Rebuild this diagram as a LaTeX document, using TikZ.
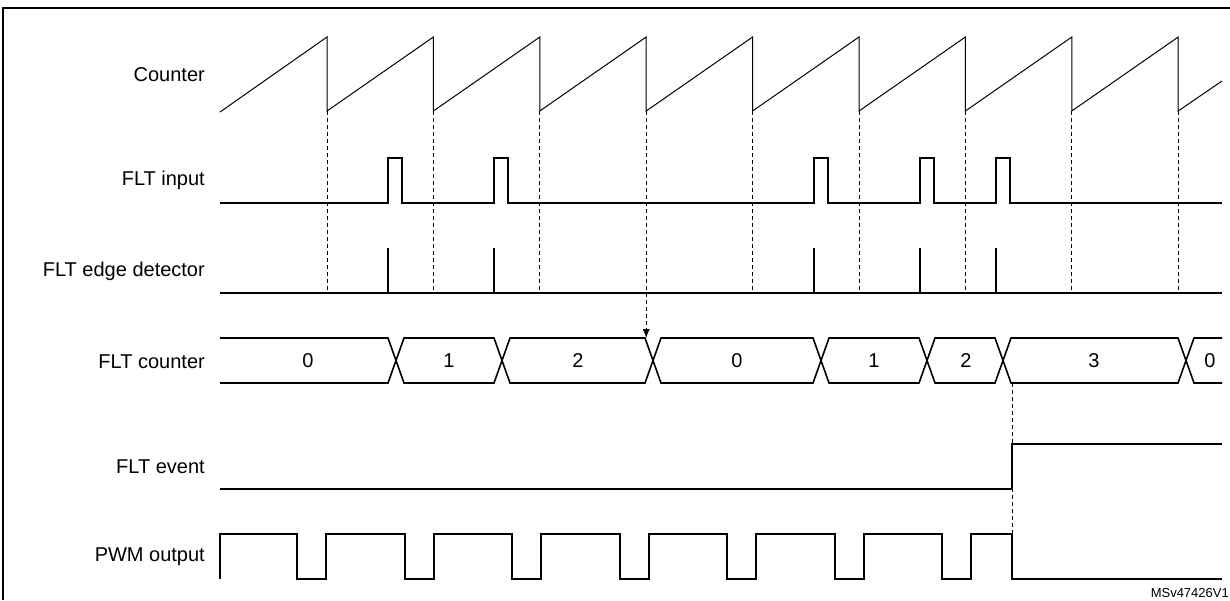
\documentclass[tikz,border=0pt]{standalone}
\usepackage{fontspec}
\setmainfont{Liberation Sans}
\usetikzlibrary{arrows.meta}
\begin{document}
\begin{tikzpicture}[x=1pt,y=-1pt,
  sig/.style={line width=1.6pt,line join=miter},
  guide/.style={line width=0.8pt,dashed,dash pattern=on 4pt off 3pt},
  lbl/.style={anchor=east,font=\fontsize{20}{24}\selectfont,inner sep=0pt},
  val/.style={font=\fontsize{20}{24}\selectfont,inner sep=0pt}]
\useasboundingbox (0,0) rectangle (1230,600);
% frame
\draw[line width=1.6pt] (1230,8) -- (3,8) -- (3,600);
% labels
\node[lbl] (lc) at (205,75) {Counter};
\node[lbl] (li) at (205,180) {FLT input};
\node[lbl] (le) at (205,271) {FLT edge detector};
\node[lbl] (lk) at (205,362) {FLT counter};
\node[lbl] (lv) at (205,467) {FLT event};
\node[lbl] (lp) at (205,557) {PWM output};
% counter sawtooth
\draw[line width=1pt] (220,112) -- (327,37)
  \foreach \x in {327,433.4,539.8,646.2,752.6,859,965.4,1071.8} { -- (\x,111) -- ++(106.4,-74) }
  -- (1178.2,111) -- (1222,81);
% guides
\foreach \x in {327,433.4,539.8,752.6,859,965.4,1071.8,1178.2}
  \draw[guide] (\x,111) -- (\x,293);
\coordinate (ga) at (646.2,111);
\coordinate (gb) at (646.2,338);
\draw[guide,-{Latex[length=9pt,width=7pt]}] (ga) -- (gb);
\coordinate (gc) at (1012,383);
\coordinate (gd) at (1012,534);
\draw[guide] (gc) -- (gd);
% FLT input
\draw[sig] (220,203)
  \foreach \x in {388,494,814,920,996} { -- (\x,203) -- (\x,158) -- (\x+14,158) -- (\x+14,203) }
  -- (1222,203);
% edge detector
\draw[sig] (220,293) -- (1222,293);
\foreach \x in {388,494,814,920,996} \draw[sig] (\x,293) -- (\x,248);
% FLT counter bus
\def\ta{338}\def\tb{383}\def\tm{361}
\draw[sig] (220,\ta) -- (388,\ta) -- (404,\tb) -- (494,\tb) -- (510,\ta) -- (645,\ta) -- (661,\tb) -- (813,\tb) -- (829,\ta) -- (919,\ta) -- (935,\tb) -- (995,\tb) -- (1011,\ta) -- (1178,\ta) -- (1194,\tb) -- (1222,\tb);
\draw[sig] (220,\tb) -- (388,\tb) -- (404,\ta) -- (494,\ta) -- (510,\tb) -- (645,\tb) -- (661,\ta) -- (813,\ta) -- (829,\tb) -- (919,\tb) -- (935,\ta) -- (995,\ta) -- (1011,\tb) -- (1178,\tb) -- (1194,\ta) -- (1222,\ta);
\node[val] (c0) at (308,\tm) {0};
\node[val] (c1) at (449,\tm) {1};
\node[val] (c2) at (578,\tm) {2};
\node[val] (c3) at (737,\tm) {0};
\node[val] (c4) at (874,\tm) {1};
\node[val] (c5) at (966,\tm) {2};
\node[val] (c6) at (1094,\tm) {3};
\node[val] (c7) at (1210,\tm) {0};
% FLT event
\draw[sig] (220,489) -- (1012,489) -- (1012,444) -- (1222,444);
% PWM
\draw[sig] (220,579) -- (220,534)
  \foreach \x in {297,405,512,620,727,835,942} { -- (\x,534) -- (\x,579) -- (\x+29,579) -- (\x+29,534) }
  -- (1012,534) -- (1012,579) -- (1222,579);
\node[anchor=south east,inner sep=0pt,font=\fontsize{13}{15}\selectfont] (id) at (1229,598) {MSv47426V1};
\end{tikzpicture}
\end{document}
